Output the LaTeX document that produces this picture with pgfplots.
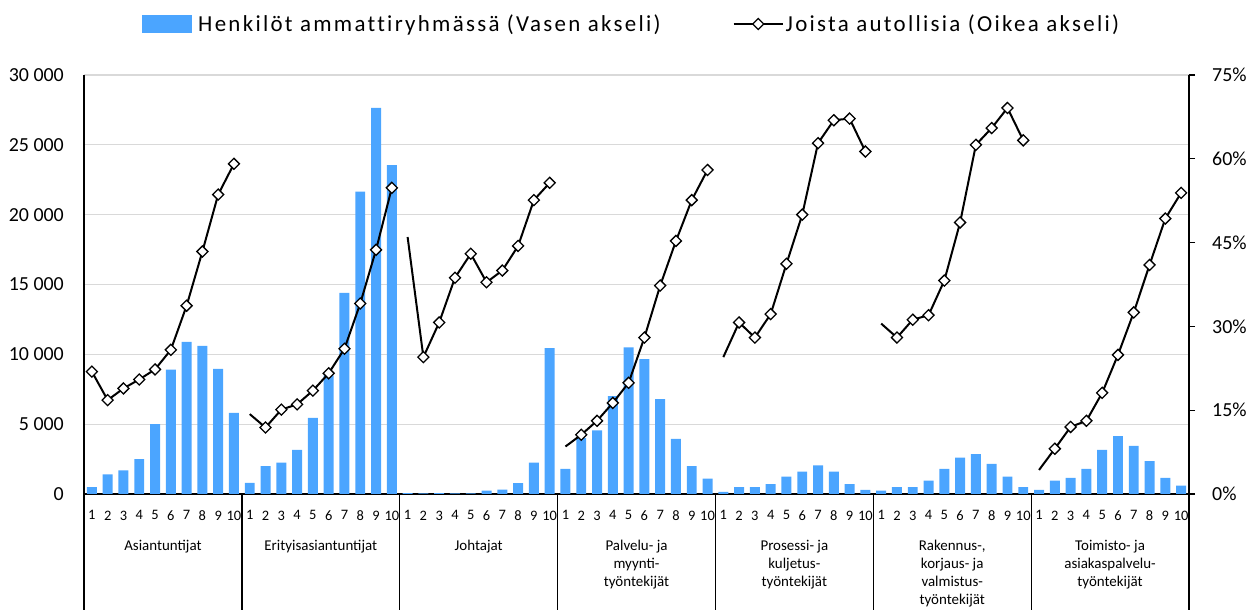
\documentclass[border=0pt]{standalone}
\usepackage{pgfplots}
\usepackage{pgfplotstable}
\pgfplotsset{compat=1.18}
\usepackage{fontspec}
\setmainfont{Carlito}
\definecolor{barblue}{RGB}{75,165,255}
\definecolor{gridgray}{RGB}{217,217,217}

\pgfplotstableread{
x y
0 500
1 1400
2 1700
3 2500
4 5000
5 8900
6 10900
7 10600
8 8950
9 5800
10 800
11 2000
12 2250
13 3150
14 5450
15 8500
16 14400
17 21650
18 27650
19 23550
20 60
21 50
22 60
23 40
24 50
25 250
26 310
27 770
28 2250
29 10450
30 1800
31 4000
32 4550
33 7000
34 10500
35 9650
36 6800
37 3950
38 2000
39 1100
40 150
41 500
42 500
43 700
44 1250
45 1600
46 2050
47 1600
48 700
49 300
50 250
51 500
52 500
53 950
54 1800
55 2600
56 2850
57 2150
58 1250
59 500
60 300
61 950
62 1150
63 1800
64 3150
65 4150
66 3450
67 2350
68 1150
69 600
}\bars

\begin{document}
\begin{tikzpicture}[x=1bp,y=1bp]
\path[use as bounding box] (0,0) rectangle (1250,610);
\begin{axis}[
  at={(84bp,116bp)}, anchor=south west,
  scale only axis, width=1105bp, height=419bp,
  xmin=-0.5, xmax=69.5, ymin=0, ymax=30000,
  axis y line*=left, axis x line*=bottom,
  axis line style={black, line width=1.3bp},
  ytick={0,5000,...,30000},
  scaled y ticks=false,
  yticklabel style={font=\fontsize{20}{24}\selectfont, inner sep=0pt, xshift=-20bp},
  yticklabel style={/pgf/number format/.cd, 1000 sep={\ }, assume math mode=true},
  ytick style={draw=none},
  ymajorgrids, grid style={gridgray, line width=1.3bp},
  xtick={0,...,69},
  xticklabels={1,2,3,4,5,6,7,8,9,10,1,2,3,4,5,6,7,8,9,10,1,2,3,4,5,6,7,8,9,10,1,2,3,4,5,6,7,8,9,10,1,2,3,4,5,6,7,8,9,10,1,2,3,4,5,6,7,8,9,10,1,2,3,4,5,6,7,8,9,10},
  xtick style={draw=none},
  xticklabel style={font=\fontsize{14.5}{16}\selectfont, inner sep=0pt, anchor=north, yshift=-16.5bp},
  clip=false,
]
\addplot[ybar, bar width=0.63, fill=barblue, draw=none] table[x=x,y=y]{\bars};
\pgfplotsinvokeforeach{-0.5,9.5,19.5,29.5,39.5,49.5,59.5,69.5}{
  \draw[black, line width=1.3bp] (axis cs:#1,0) -- ([yshift=-118bp]axis cs:#1,0);
}
\begin{scope}[every node/.style={anchor=north, align=center, inner sep=0pt, font=\fontsize{15}{18}\selectfont}]
\node at ([yshift=-46bp]axis cs:4.5,0) {Asiantuntijat};
\node at ([yshift=-46bp]axis cs:14.5,0) {Erityisasiantuntijat};
\node at ([yshift=-46bp]axis cs:24.5,0) {Johtajat};
\node at ([yshift=-46bp]axis cs:34.5,0) {Palvelu- ja\\myynti-\\työntekijät};
\node at ([yshift=-46bp]axis cs:44.5,0) {Prosessi- ja\\kuljetus-\\työntekijät};
\node at ([yshift=-46bp]axis cs:54.5,0) {Rakennus-,\\korjaus- ja\\valmistus-\\työntekijät};
\node at ([yshift=-46bp]axis cs:64.5,0) {Toimisto- ja\\asiakaspalvelu-\\työntekijät};
\end{scope}
\end{axis}

\begin{axis}[
  at={(84bp,116bp)}, anchor=south west,
  scale only axis, width=1105bp, height=419bp,
  xmin=-0.5, xmax=69.5, ymin=0, ymax=75,
  axis y line*=right, axis x line=none,
  axis line style={black, line width=1.3bp},
  ytick={0,15,...,75},
  yticklabel={\pgfmathprintnumber{\tick}\%},
  yticklabel style={font=\fontsize{20}{24}\selectfont, inner sep=0pt, anchor=west, xshift=17bp},
  yticklabel style={/pgf/number format/assume math mode=true},
  tick align=outside, major tick length=6bp,
  ytick style={black, line width=1.3bp},
  clip=false,
  legend columns=2,
  legend style={draw=none, fill=none, at={(0.0525,1.1217)}, anchor=west,
    font=\fontsize{23}{27}\selectfont\addfontfeatures{LetterSpace=10, Ligatures=CommonOff}, inner sep=0pt,
    /tikz/every even column/.append style={column sep=70bp}},
  legend cell align=left,
  every axis plot/.append style={black, line width=2bp, mark=square*, mark size=3.9bp,
    mark options={rotate=45, fill=white, draw=black, line width=1.3bp, solid}},
]
\addlegendimage{legend image code/.code={\fill[barblue] (0bp,-8bp) rectangle (48bp,8bp); \path (52bp,0bp);}}
\addlegendentry{Henkilöt ammattiryhmässä (Vasen akseli)}
\addplot[legend image code/.code={\draw[black, line width=2bp] (0bp,0bp) -- (49bp,0bp);
    \draw plot[mark=square*, mark size=3.9bp, mark options={rotate=45, fill=white, draw=black, line width=1.3bp}] coordinates {(24.5bp,0bp)};}]
  coordinates {(0,21.9) (1,16.8) (2,18.9) (3,20.5) (4,22.3) (5,25.8) (6,33.7) (7,43.4) (8,53.6) (9,59.1)};
\addlegendentry{Joista autollisia (Oikea akseli)}
\addplot[forget plot, mark indices={2,3,4,5,6,7,8,9,10}]
  coordinates {(10,14.3) (11,11.9) (12,15.1) (13,16.05) (14,18.5) (15,21.6) (16,26.0) (17,34.1) (18,43.7) (19,54.8)};
\addplot[forget plot, mark indices={2,3,4,5,6,7,8,9,10}]
  coordinates {(20,46.0) (21,24.5) (22,30.7) (23,38.7) (24,43.0) (25,37.9) (26,40.0) (27,44.4) (28,52.6) (29,55.7)};
\addplot[forget plot, mark indices={2,3,4,5,6,7,8,9,10}]
  coordinates {(30,8.5) (31,10.6) (32,13.1) (33,16.3) (34,19.9) (35,28.0) (36,37.3) (37,45.3) (38,52.6) (39,58.0)};
\addplot[forget plot, mark indices={2,3,4,5,6,7,8,9,10}]
  coordinates {(40,24.5) (41,30.7) (42,28.0) (43,32.2) (44,41.2) (45,50.0) (46,62.8) (47,66.9) (48,67.2) (49,61.3)};
\addplot[forget plot, mark indices={2,3,4,5,6,7,8,9,10}]
  coordinates {(50,30.5) (51,28.0) (52,31.2) (53,32.0) (54,38.2) (55,48.6) (56,62.5) (57,65.5) (58,69.1) (59,63.3)};
\addplot[forget plot, mark indices={2,3,4,5,6,7,8,9,10}]
  coordinates {(60,4.3) (61,8.1) (62,12.0) (63,13.1) (64,18.1) (65,24.9) (66,32.5) (67,41.0) (68,49.3) (69,53.9)};
\end{axis}
\end{tikzpicture}
\end{document}
